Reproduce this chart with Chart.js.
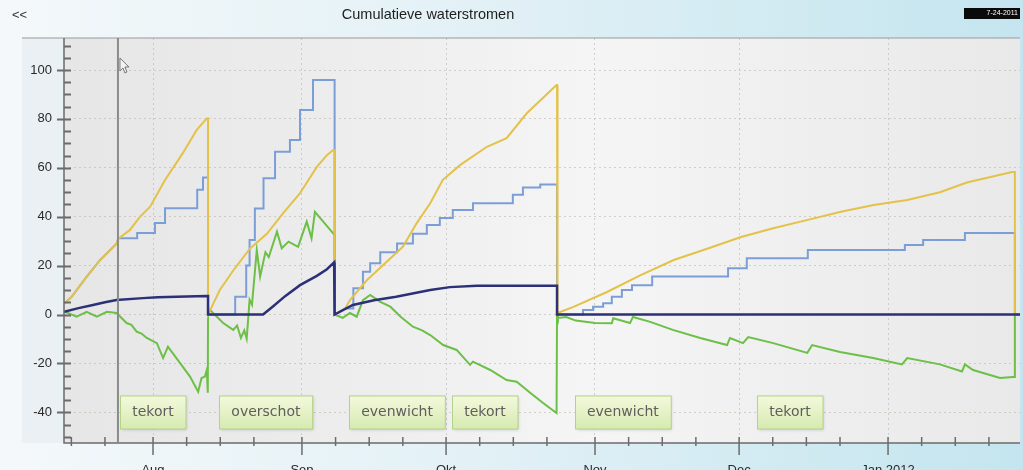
<!DOCTYPE html>
<html><head><meta charset="utf-8">
<script src="https://cdn.jsdelivr.net/npm/chart.js@4.4.0/dist/chart.umd.min.js"></script>
<style>
html,body{margin:0;padding:0;overflow:hidden;background:#eef5f8;}
#wrap{position:relative;width:1023px;height:470px;}
</style></head><body>
<div id="wrap"><canvas id="c" width="1023" height="470"></canvas></div>
<script>
// ---- data (x = days since 1 Aug 2011) ----
const chartTitle = 'Cumulatieve waterstromen';
const monthLabels = ['Aug','Sep','Okt','Nov','Dec','Jan 2012'];
const monthDays = [0,31,61,92,122,153];
const weekDays = [-17,-10,7,14,21,38,45,52,68,75,82,99,106,113,129,136,143,160,167,174];
const yTicks = [-40,-20,0,20,40,60,80,100];
const periodLabels = ['tekort','overschot','evenwicht','tekort','evenwicht','tekort'];
const periodLabelDays = [0,23.5,50.8,69.1,97.8,132.6];
const cursorDay = -7.3;
const cursorText = '7-24-2011';

const yellowDays = [-18.53,-18.3,-16.9,-13.8,-11,-7.6,-7.2,-4.8,-2.7,-0.6,2.5,6.2,9.1,11.2,11.45,11.45,
  11.9,13.9,16.7,20.2,23.7,27.1,30.6,34.1,36.2,37.5,37.8,37.8,
  40,41,44.5,52,54.9,57.7,60.3,63.9,69.5,73.6,77.8,84,84.1,84.1,
  84.3,87.4,94.5,101.4,108.4,115.5,122.4,129.3,136.3,143.2,150,157,163.8,169.4,178.8,179.4,179.4,180.47];
const yellowVals = [4.5,4.7,7.3,15.5,22.3,29,31,34.6,40,44.1,55,66,75.5,80.2,80.2,0,
  1.8,10,18,27,33,41.5,49.6,60.4,65.2,67.3,67.3,0,
  2.5,5.9,14,27.7,37.4,45.5,55,61.1,68.6,72.1,82.3,93.9,93.9,0,
  0.6,3,9.2,16,22.3,27,31.7,35.4,38.7,42,44.8,46.8,50,54,58.3,58.3,0,0];

const blueDays = [-18.53,-18.3,-16.9,-13.8,-11,-7.6,-7.2,-3.3,-3.3,0.4,0.4,2.5,2.5,9.2,9.2,10.4,10.4,11.45,11.45,
  17.1,17.1,19.4,19.4,20.1,20.1,21.2,21.2,23,23,25.4,25.4,28.5,28.5,30.6,30.6,33.3,33.3,37.8,37.8,
  40,41.7,41.7,43.7,43.7,45.2,45.2,47.3,47.3,50.8,50.8,54.1,54.1,57,57,59.7,59.7,62.4,62.4,66.6,66.6,74.9,74.9,77,77,80.6,80.6,84.1,84.1,
  89.5,89.5,91.6,91.6,93.7,93.7,95.5,95.5,97.6,97.6,99.7,99.7,103.9,103.9,119.7,119.7,123.6,123.6,136.3,136.3,156.5,156.5,160.3,160.3,169,169,179.4,179.4,180.47];
const blueVals = [4.5,4.7,7.3,15.5,22.3,29,31.2,31.2,33.3,33.3,37.4,37.4,43.5,43.5,51,51,56,56,0,
  0,7.3,7.3,20,20,30.5,30.5,43.4,43.4,55.7,55.7,66.6,66.6,71.4,71.4,83.6,83.6,95.9,95.9,0,
  2.5,2.5,10.7,10.7,17.5,17.5,21,21,25.5,25.5,29,29,33,33,36.6,36.6,39.5,39.5,42.7,42.7,45.5,45.5,49,49,52,52,53.2,53.2,0,
  0,1.8,1.8,3.2,3.2,4.6,4.6,7.3,7.3,10,10,12,12,15.5,15.5,18.9,18.9,23,23,26.4,26.4,28.4,28.4,30.5,30.5,33.3,33.3,0,0];

const greenDays = [-18.53,-18.3,-15.9,-13.8,-11.7,-9.6,-7.6,-5.5,-4.5,-3.4,-2.4,-1.3,0.8,2.1,3.1,5.6,7.7,9.4,10.1,10.8,11.2,11.4,11.45,
  11.9,14.6,16.7,17.5,18.3,19.0,19.5,20.1,20.6,21.6,22.3,23.4,24.1,25.8,26.8,28.2,30.2,32,33,33.7,37.2,37.8,37.8,
  39.5,41,42.4,43.7,45.2,47.3,49.4,51.6,54.1,56,57.7,60.4,63.2,66,66.6,70.2,73.6,75.7,78.5,81.2,84,84.1,
  84.3,86,88,92,95.5,95.8,99.3,99.9,103.5,108.2,113.9,119.5,120.1,122.8,123.9,129.1,136.2,137.2,143,149.9,155.9,157,163.8,168.4,169,170.7,176.3,179,179.4,179.4,180.47];
const greenVals = [1,1.1,-0.9,1.1,-0.9,1.1,0.6,-3.5,-4.2,-7,-7.8,-9.6,-11.7,-17.8,-13.2,-19.8,-25.4,-31.6,-26,-25.4,-22.7,-32,0,
  1.8,-3.5,-6.3,-4.5,-9.6,-6.5,-9.9,6,4,26.4,15.5,25.5,23.5,33.9,27.1,29.8,27.7,38,31.2,42,33.9,32.5,0,
  -1.4,0.6,-0.9,5.9,8,5.2,3.2,-1,-5,-6.5,-8.4,-12.5,-14.5,-20.6,-19.3,-22.7,-26.8,-27.5,-32,-36.2,-40.3,0,
  -1.4,-1,-2.5,-3.5,-3.6,-1.5,-3.5,-1,-3,-6.3,-9.6,-12.5,-9.6,-11.7,-9.2,-11.7,-15.7,-12.5,-15.3,-17.8,-20.4,-17.8,-20.4,-23.3,-20.4,-22.7,-26,-25.6,-25.6,0,0];

const navyDays = [-18.53,-15.5,-12.5,-10,-7.6,-2.1,1,4.9,11.2,11.45,11.45,22.9,24.9,27.5,30.6,34.1,36.2,37.7,37.8,37.8,
  41.6,46,50.6,57.7,61.8,67.4,84.1,84.1,180.47];
const navyVals = [1.1,2.6,3.9,5,5.9,6.7,7.1,7.3,7.6,7.6,0,0,3.2,7.5,12,15.8,18.5,21.3,21.3,0,
  3.9,5.8,7.3,10,11.2,11.8,11.8,0,0];

function pts(xs, ys){ return xs.map((x,i)=>({x:x, y:ys[i]})); }

const AX = '#6b6b6b';
const bgPlugin = {
  id:'bg',
  beforeDraw(chart){
    const {ctx, chartArea:a, width, height} = chart;
    ctx.save();
    let g = ctx.createLinearGradient(0,0,width,0);
    g.addColorStop(0,'#f4f8fa'); g.addColorStop(0.45,'#e3f1f6'); g.addColorStop(1,'#c4e5ef');
    ctx.fillStyle = g; ctx.fillRect(0,0,width,height);
    ctx.fillStyle = 'rgba(215,225,230,0.3)';
    ctx.fillRect(22,a.top,a.left-22,a.bottom-a.top);
    let p = ctx.createLinearGradient(a.left,0,a.right,0);
    p.addColorStop(0,'#e6e6e6'); p.addColorStop(0.3,'#ededed'); p.addColorStop(0.55,'#f5f5f5');
    p.addColorStop(0.8,'#eeeeee'); p.addColorStop(1,'#e9e9e9');
    ctx.fillStyle = p; ctx.fillRect(a.left,a.top,a.right-a.left,a.bottom-a.top);
    // title and header
    ctx.fillStyle = '#1e1e1e';
    ctx.font = '14.5px "Liberation Sans", Arial, sans-serif';
    ctx.textAlign = 'center'; ctx.textBaseline = 'middle';
    ctx.fillText(chartTitle, 428, 15);
    ctx.font = '13px "Liberation Sans", Arial, sans-serif';
    ctx.textAlign = 'left';
    ctx.fillStyle = '#333';
    ctx.fillText('<<', 12, 15);
    ctx.fillStyle = '#0a0a0a'; ctx.fillRect(964,8,56,11);
    ctx.fillStyle = '#fff'; ctx.font = '7px "Liberation Sans", Arial, sans-serif';
    ctx.textAlign = 'right'; ctx.fillText(cursorText, 1018, 13.5);
    ctx.restore();
  }
};

const overlayPlugin = {
  id:'overlay',
  afterDatasetsDraw(chart){
    const {ctx, chartArea:a, scales:{x, y}} = chart;
    ctx.save();
    // frame
    ctx.strokeStyle = '#9a9a9a'; ctx.lineWidth = 1.2;
    ctx.beginPath(); ctx.moveTo(22,a.top); ctx.lineTo(a.right,a.top); ctx.stroke();
    ctx.strokeStyle = AX; ctx.lineWidth = 1.5;
    ctx.beginPath(); ctx.moveTo(a.left,a.top); ctx.lineTo(a.left,a.bottom); ctx.lineTo(a.right,a.bottom); ctx.stroke();
    // y ticks
    ctx.lineWidth = 2;
    for (let v=-50; v<=110; v+=5){
      const py = Math.round(y.getPixelForValue(v))+0.5;
      ctx.beginPath();
      ctx.moveTo(v%20===0 ? a.left-7 : a.left, py); ctx.lineTo(a.left+7, py); ctx.stroke();
    }
    // x ticks
    ctx.lineWidth = 1.5;
    monthDays.forEach(d=>{ const px = x.getPixelForValue(d);
      ctx.beginPath(); ctx.moveTo(px,a.bottom-6); ctx.lineTo(px,a.bottom+12); ctx.stroke(); });
    weekDays.forEach(d=>{ const px = x.getPixelForValue(d);
      ctx.beginPath(); ctx.moveTo(px,a.bottom-6); ctx.lineTo(px,a.bottom+3); ctx.stroke(); });
    // cursor line
    const cx = x.getPixelForValue(cursorDay);
    ctx.strokeStyle = '#8a8a8a'; ctx.lineWidth = 2;
    ctx.beginPath(); ctx.moveTo(cx,a.top); ctx.lineTo(cx,a.bottom); ctx.stroke();
    // mouse pointer
    const mx = cx+2, my = a.top+20;
    ctx.beginPath(); ctx.moveTo(mx,my); ctx.lineTo(mx,my+13); ctx.lineTo(mx+3,my+10); ctx.lineTo(mx+5,my+15);
    ctx.lineTo(mx+7,my+14); ctx.lineTo(mx+5,my+9); ctx.lineTo(mx+9,my+9); ctx.closePath();
    ctx.fillStyle = '#f2f2f2'; ctx.fill(); ctx.strokeStyle = '#777'; ctx.lineWidth = 1; ctx.stroke();
    // period labels
    ctx.font = '14px "DejaVu Sans", Verdana, sans-serif';
    ctx.textAlign = 'center'; ctx.textBaseline = 'middle';
    const cy = 412, h = 33;
    periodLabels.forEach((t,i)=>{
      const px = x.getPixelForValue(periodLabelDays[i]);
      const w = ctx.measureText(t).width + 24;
      const bx = Math.round(px - w/2)+0.5, by = cy - h/2 + 0.5;
      ctx.save();
      ctx.shadowColor = 'rgba(0,0,0,0.18)'; ctx.shadowBlur = 3; ctx.shadowOffsetX = 1; ctx.shadowOffsetY = 1;
      const g = ctx.createLinearGradient(0,by,0,by+h);
      g.addColorStop(0,'#f3f9dc'); g.addColorStop(1,'#d6eab0');
      ctx.fillStyle = g; ctx.fillRect(bx,by,w,h);
      ctx.restore();
      ctx.strokeStyle = '#b4d28a'; ctx.lineWidth = 1; ctx.strokeRect(bx,by,w,h);
      ctx.fillStyle = '#5e5e5e'; ctx.fillText(t, px, cy);
    });
    ctx.restore();
  }
};

const tickFont = {family:'"Liberation Sans", Arial, sans-serif', size:13};
new Chart(document.getElementById('c'), {
  type:'line',
  data:{ datasets:[
    {label:'navy', data:pts(navyDays,navyVals), borderColor:'#2b3078', borderWidth:2.5, order:0},
    {label:'geel', data:pts(yellowDays,yellowVals), borderColor:'#e3c24a', borderWidth:2, order:1},
    {label:'blauw', data:pts(blueDays,blueVals), borderColor:'#7c9ed6', borderWidth:2, order:2},
    {label:'groen', data:pts(greenDays,greenVals), borderColor:'#6cbf47', borderWidth:2, order:3}
  ]},
  options:{
    responsive:false, animation:false, devicePixelRatio:1,
    elements:{ point:{radius:0}, line:{tension:0, fill:false} },
    layout:{ padding:{top:38, right:3, left:0, bottom:0} },
    plugins:{ legend:{display:false}, tooltip:{enabled:false}, title:{display:false} },
    scales:{
      x:{ type:'linear', min:-18.53, max:180.47,
        afterBuildTicks:s=>{ s.ticks = monthDays.map(v=>({value:v})); },
        afterFit:s=>{ s.height = 27; },
        ticks:{ callback:(v,i)=>monthLabels[i], font:tickFont, color:'#2a2a2a', padding:20, maxRotation:0, autoSkip:false },
        grid:{ color:'rgba(170,170,170,0.5)', lineWidth:1, drawTicks:false },
        border:{ display:false, dash:[2,3] } },
      y:{ type:'linear', min:-52.56, max:113.1,
        afterBuildTicks:s=>{ s.ticks = yTicks.map(v=>({value:v})); },
        afterFit:s=>{ s.width = 64; },
        ticks:{ font:tickFont, color:'#2a2a2a', padding:12 },
        grid:{ color:'rgba(185,175,160,0.55)', lineWidth:1, drawTicks:false },
        border:{ display:false, dash:[2,3] } }
    }
  },
  plugins:[bgPlugin, overlayPlugin]
});
</script>
</body></html>
